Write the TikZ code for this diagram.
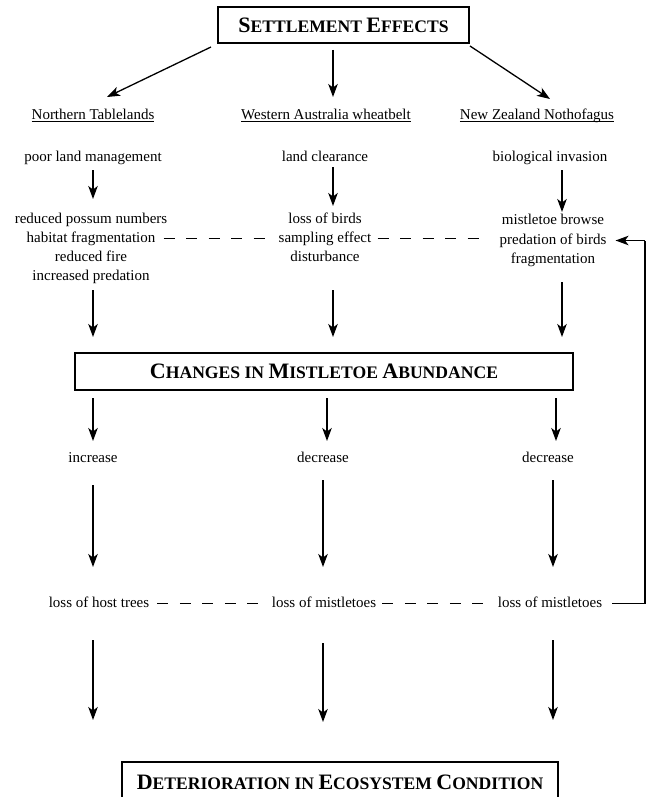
\documentclass[tikz,border=0pt]{standalone}
\usepackage{fontspec}
\setmainfont{Liberation Serif}
\usetikzlibrary{arrows.meta}
\newcommand{\bigsc}[2]{{\fontsize{22}{26}\selectfont #1}{\fontsize{17.6}{20}\selectfont #2}}
\newcommand{\ulhead}[1]{\underline{\smash{#1}}}
\begin{document}
\begin{tikzpicture}[x=1pt,y=-1pt,
  txt/.style={font=\fontsize{15}{19}\selectfont, inner sep=0pt, anchor=base},
  hbox/.style={draw, line width=1.4pt, inner sep=0pt, font=\bfseries\fontsize{17.6}{20}\selectfont},
  arr/.style={-{Stealth[length=13pt,width=9.5pt,inset=3.5pt]}, line width=1.3pt},
  dsh/.style={dash pattern=on 11pt off 11.5pt, line width=1.5pt},
  fb/.style={line width=1.3pt}
]
\useasboundingbox (0,0) rectangle (650,797);
\clip (0,0) rectangle (650,797);

% boxes
\node[hbox, minimum width=251pt, minimum height=36pt] (top) at (343.5,25) {\bigsc{S}{ETTLEMENT} \bigsc{E}{FFECTS}};
\node[hbox, minimum width=498pt, minimum height=37pt] (chg) at (324,371.5) {\bigsc{C}{HANGES} \bigsc{}{IN} \bigsc{M}{ISTLETOE} \bigsc{A}{BUNDANCE}};
\node[hbox, minimum width=436pt, minimum height=40pt] (det) at (340,782) {\bigsc{D}{ETERIORATION} \bigsc{}{IN} \bigsc{E}{COSYSTEM} \bigsc{C}{ONDITION}};

% headers
\node[txt] (nt) at (93,120) {\ulhead{Northern Tablelands}};
\node[txt] (wa) at (326,120) {\ulhead{Western Australia wheatbelt}};
\node[txt] (nz) at (537,120) {\ulhead{New Zealand Nothofagus}};

% causes
\node[txt] (plm) at (93,161) {poor land management};
\node[txt] (lc) at (325,161) {land clearance};
\node[txt] (bi) at (550,161) {biological invasion};

% left block
\node[txt] (l1) at (91,223) {reduced possum numbers};
\node[txt] (l2) at (91,242) {habitat fragmentation};
\node[txt] (l3) at (91,261) {reduced fire};
\node[txt] (l4) at (91,280) {increased predation};
% middle block
\node[txt] (m1) at (325,223) {loss of birds};
\node[txt] (m2) at (325,242) {sampling effect};
\node[txt] (m3) at (325,261) {disturbance};
% right block
\node[txt] (r1) at (553,224) {mistletoe browse};
\node[txt] (r2) at (553,244) {predation of birds};
\node[txt] (r3) at (553,263) {fragmentation};

% changes
\node[txt] (inc) at (93,462) {increase};
\node[txt] (dec1) at (323,462) {decrease};
\node[txt] (dec2) at (548,462) {decrease};

% losses
\node[txt] (lht) at (99,607) {loss of host trees};
\node[txt] (lm1) at (324,607) {loss of mistletoes};
\node[txt] (lm2) at (550,607) {loss of mistletoes};

% arrow end points
\coordinate (t1s) at (211,47);  \coordinate (t1e) at (107,97);
\coordinate (t2s) at (333,50);  \coordinate (t2e) at (333,97);
\coordinate (t3s) at (470,46);  \coordinate (t3e) at (550,99);

\coordinate (a1s) at (93,170);  \coordinate (a1e) at (93,199);
\coordinate (a2s) at (333,167); \coordinate (a2e) at (333,206);
\coordinate (a3s) at (562,170); \coordinate (a3e) at (562,212);

\coordinate (b1s) at (93,290);  \coordinate (b1e) at (93,337);
\coordinate (b2s) at (333,290); \coordinate (b2e) at (333,337);
\coordinate (b3s) at (562,282); \coordinate (b3e) at (562,337);

\coordinate (c1s) at (93,398);  \coordinate (c1e) at (93,441);
\coordinate (c2s) at (327,398); \coordinate (c2e) at (327,441);
\coordinate (c3s) at (556,398); \coordinate (c3e) at (556,441);

\coordinate (d1s) at (93,485);  \coordinate (d1e) at (93,567);
\coordinate (d2s) at (323,480); \coordinate (d2e) at (323,567);
\coordinate (d3s) at (553,480); \coordinate (d3e) at (553,567);

\coordinate (e1s) at (93,640);  \coordinate (e1e) at (93,720);
\coordinate (e2s) at (323,643); \coordinate (e2e) at (323,722);
\coordinate (e3s) at (553,640); \coordinate (e3e) at (553,720);

\foreach \p in {t1,t2,t3,a1,a2,a3,b1,b2,b3,c1,c2,c3,d1,d2,d3,e1,e2,e3}
  \draw[arr] (\p s) -- (\p e);

% dashed links (five dashes each)
\draw[dsh] ([xshift=8pt,yshift=3.5pt]l2.base east) -- ++(101,0);
\draw[dsh] ([xshift=6pt,yshift=3.5pt]m2.base east) -- ++(101,0);
\draw[dsh] ([xshift=8pt,yshift=3.5pt]lht.base east) -- ++(101,0);
\draw[dsh] ([xshift=6pt,yshift=3.5pt]lm1.base east) -- ++(101,0);

% feedback
\coordinate (fbB) at (645,603.5);
\coordinate (fbT) at (645,240.5);
\draw[fb] ([xshift=10pt,yshift=3.5pt]lm2.base east) -- (fbB) -- (fbT);
\draw[arr] (fbT) -- ([xshift=9pt,yshift=3.5pt]r2.base east);
\end{tikzpicture}
\end{document}
